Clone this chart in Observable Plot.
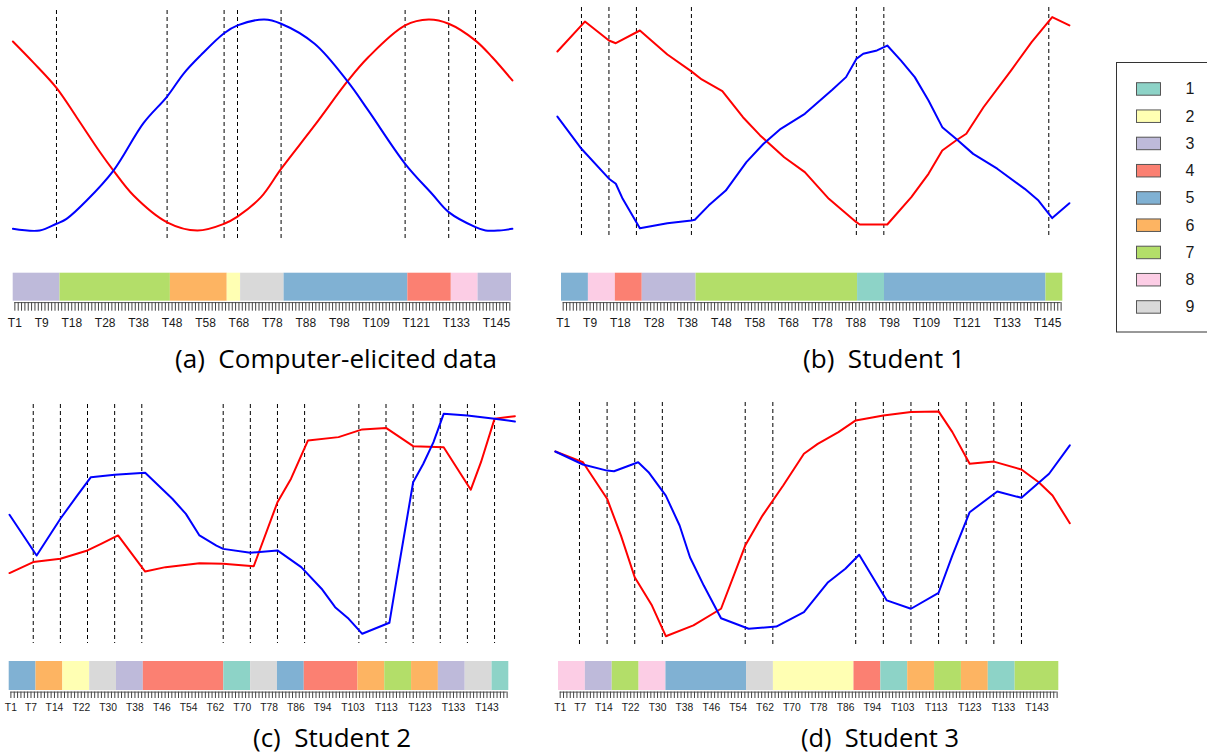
<!DOCTYPE html>
<html><head><meta charset="utf-8">
<script src="https://cdn.jsdelivr.net/npm/d3@7"></script>
<script src="https://cdn.jsdelivr.net/npm/@observablehq/plot@0.6"></script>
<style>
body{margin:0;background:#fff;}
#root{position:relative;width:1207px;height:755px;overflow:hidden;background:#fff;}
.pw{position:absolute;}
.pw svg{display:block;}
#overlay{position:absolute;left:0;top:0;pointer-events:none;}
</style></head><body><div id="root"></div>
<script>
// ---------------- data ----------------
const N_POINTS = 150;       // time points of the red/blue series
const N_STRIP = 149;        // time points in the cluster strip
const tickLabelsAB = [1, 9, 18, 28, 38, 48, 58, 68, 78, 88, 98, 109, 121, 133, 145];
const tickLabelsCD = [1, 7, 14, 22, 30, 38, 46, 54, 62, 70, 78, 86, 94, 103, 113, 123, 133, 143];
const clusterIds = [1, 2, 3, 4, 5, 6, 7, 8, 9];
const clusterColors = ["#8DD3C7", "#FFFFB3", "#BEBADA", "#FB8072", "#80B1D3", "#FDB462", "#B3DE69", "#FCCDE5", "#D9D9D9"];
const captions = ["(a)  Computer-elicited data", "(b)  Student 1", "(c)  Student 2", "(d)  Student 3"];

// (a) Computer-elicited data
const aSegEnd = [14, 47, 64, 68, 81, 118, 131, 139, 149];
const aSegCluster = [3, 7, 6, 2, 9, 5, 4, 8, 3];
const aRedT = [1, 7, 14, 20, 27, 31, 37, 47, 56, 64, 68, 75, 81, 91, 101, 107, 118, 125, 131, 139, 144, 150];
const aRedV = [89.6, 79.8, 67.6, 53.7, 37.1, 28.4, 16.6, 3.9, 0, 3.2, 6.6, 15.8, 29.2, 49.8, 71.1, 82.1, 97.2, 100, 98, 90, 82.1, 71.1];
const aBlueT = [1, 9, 14, 17, 23, 31, 40, 47, 52, 57, 64, 68, 76, 81, 91, 101, 107, 118, 126, 131, 139, 142, 146, 150];
const aBlueV = [0.8, 0, 3.2, 5.5, 14.2, 28.4, 51, 63.5, 74.5, 83, 93.5, 97.2, 100, 98, 88.5, 70.3, 56.9, 31.6, 17.4, 8.7, 1.6, 0, 0, 0.8];

// (b) Student 1
const bSegEnd = [8, 16, 24, 40, 88, 96, 144, 149];
const bSegCluster = [5, 8, 4, 3, 7, 1, 5, 7];
const bRedT = [1, 9, 16, 18, 25, 33, 40, 43, 49, 55, 60, 67, 73, 80, 84, 88, 89, 97, 104, 109, 113, 117, 120, 125, 133, 139, 145, 150];
const bRedV = [83.5, 97.6, 88.7, 87.4, 93.4, 82.1, 74.1, 70.3, 64.8, 52.5, 43.9, 33.6, 26.6, 14, 8.5, 3, 1.9, 1.9, 14.8, 25.8, 36.8, 41.5, 44.7, 57.2, 74.5, 87.9, 99.7, 95.8];
const bBlueT = [1, 8, 16, 18, 20, 25, 33, 40, 41, 45, 50, 56, 61, 66, 73, 81, 85, 88, 90, 94, 97, 101, 105, 109, 113, 117, 122, 129, 137, 141, 145, 150];
const bBlueV = [52.8, 37.6, 23.5, 21.1, 14, 0.1, 2.5, 3.8, 4.1, 10.8, 17.9, 31.3, 40, 47, 54.1, 65.4, 71.4, 80, 82.4, 84, 86.3, 79.2, 71.4, 60.4, 47.8, 42.3, 35.2, 28.2, 18.7, 13.2, 4.9, 11.9];

// (c) Student 2
const cSegEnd = [8, 16, 24, 32, 40, 64, 72, 80, 88, 104, 112, 120, 128, 136, 144, 149];
const cSegCluster = [5, 6, 2, 9, 3, 4, 1, 9, 5, 4, 6, 7, 6, 3, 9, 1];
const cRedT = [1, 8, 16, 24, 28, 33, 41, 47, 57, 64, 73, 80, 84, 89, 98, 105, 112, 120, 129, 137, 140, 144, 150];
const cRedV = [27.6, 32.6, 34.1, 37.9, 40.9, 44.7, 28.3, 30.3, 32.1, 31.8, 30.7, 59.8, 70.5, 87.9, 89.4, 92.9, 93.6, 85.3, 84.8, 65.5, 78, 97.7, 98.9];
const cBlueT = [1, 9, 16, 21, 25, 32, 41, 49, 53, 57, 62, 64, 72, 80, 87, 93, 97, 101, 105, 113, 115, 118, 120, 123, 126, 129, 136, 144, 150];
const cBlueV = [54.1, 35.6, 52.3, 62.9, 71.2, 72.3, 73.2, 61.4, 54.5, 44.7, 40.1, 38.6, 36.8, 37.9, 30.3, 20.5, 12.1, 6.8, 0, 5, 23.5, 50.7, 68.9, 77.3, 87.1, 100, 99.2, 97.7, 96.5];

// (d) Student 3
const dSegEnd = [8, 16, 24, 32, 56, 64, 88, 96, 104, 112, 120, 128, 136, 149];
const dSegCluster = [8, 3, 7, 8, 5, 9, 2, 4, 1, 6, 7, 6, 1, 7];
const dRedT = [1, 9, 16, 20, 24, 29, 33, 41, 49, 56, 61, 67, 73, 77, 83, 88, 96, 104, 112, 116, 121, 128, 136, 141, 145, 150];
const dRedV = [82.1, 77.3, 61.1, 44.8, 26.2, 13.6, 0, 4.8, 12.2, 40.3, 53.6, 67, 81.1, 85.5, 90.7, 95.9, 98.1, 99.6, 99.9, 90.7, 76.6, 77.6, 74.1, 68.4, 62.5, 50.2];
const dBlueT = [1, 9, 16, 18, 25, 28, 33, 37, 40, 44, 49, 57, 65, 73, 80, 85, 89, 97, 104, 112, 116, 121, 129, 136, 139, 144, 150];
const dBlueV = [82.1, 76.3, 73.6, 73.3, 77.3, 72.9, 62.5, 49.2, 35.1, 22.5, 8, 3.3, 4.3, 10.7, 24, 30, 36.2, 15.9, 12.2, 19.3, 35.9, 55.1, 64.3, 61.5, 65.5, 72.2, 84.8];

// ---------------- layout ----------------
const panels = [
  {segEnd: aSegEnd, segCluster: aSegCluster, red: [aRedT, aRedV], blue: [aBlueT, aBlueV], ticks: tickLabelsAB, curve: "catmull-rom",
   line: {left: 0, top: 0, w: 530, h: 250, x0: 12.4, x1: 511.9, yTop: 19, yBot: 230, dTop: 10, dBot: 239},
   strip: {left: 0, top: 262, w: 530, h: 80, x0: 12.7, x1: 511, sTop: 272.7, sBot: 300.7, gap: 1.4, comb: 8.6, labelY: 326.7, fs: 12},
   cap: {x: 175, y: 367.5, len: 322}},
  {segEnd: bSegEnd, segCluster: bSegCluster, red: [bRedT, bRedV], blue: [bBlueT, bBlueV], ticks: tickLabelsAB, curve: "linear",
   line: {left: 550, top: 0, w: 530, h: 250, x0: 556.9, x1: 1068.9, yTop: 16, yBot: 228, dTop: 7, dBot: 238},
   strip: {left: 550, top: 262, w: 530, h: 80, x0: 561, x1: 1062.3, sTop: 272.7, sBot: 300.7, gap: 1.4, comb: 8.6, labelY: 326.7, fs: 12},
   cap: {x: 803, y: 367.5, len: 162}},
  {segEnd: cSegEnd, segCluster: cSegCluster, red: [cRedT, cRedV], blue: [cBlueT, cBlueV], ticks: tickLabelsCD, curve: "linear",
   line: {left: 0, top: 395, w: 530, h: 257, x0: 9.0, x1: 514.4, yTop: 413.3, yBot: 633.3, dTop: 404, dBot: 643},
   strip: {left: 0, top: 652, w: 530, h: 80, x0: 8.7, x1: 508.3, sTop: 661, sBot: 690, gap: 1.6, comb: 6.4, labelY: 710, fs: 10.3},
   cap: {x: 253, y: 747.3, len: 158}},
  {segEnd: dSegEnd, segCluster: dSegCluster, red: [dRedT, dRedV], blue: [dBlueT, dBlueV], ticks: tickLabelsCD, curve: "linear",
   line: {left: 550, top: 395, w: 530, h: 257, x0: 554.8, x1: 1069.3, yTop: 410.7, yBot: 635.7, dTop: 402, dBot: 645},
   strip: {left: 550, top: 652, w: 530, h: 80, x0: 558, x1: 1058.3, sTop: 661, sBot: 690, gap: 1.6, comb: 6.4, labelY: 710, fs: 10.3},
   cap: {x: 801, y: 747.3, len: 158}}
];

const root = document.getElementById("root");
function place(node, left, top, w) {
  const div = document.createElement("div");
  div.className = "pw";
  div.style.left = left + "px";
  div.style.top = top + "px";
  div.style.width = w + "px";
  div.appendChild(node);
  root.appendChild(div);
}
const zip = ([t, v]) => t.map((d, i) => ({t: d, v: v[i]}));

for (const p of panels) {
  const L = p.line;
  const linePlot = Plot.plot({
    width: L.w, height: L.h,
    marginLeft: L.x0 - L.left, marginRight: L.left + L.w - L.x1,
    marginTop: L.yTop - L.top, marginBottom: L.top + L.h - L.yBot,
    style: {background: "transparent", maxWidth: "none"},
    x: {domain: [1, N_POINTS], axis: null},
    y: {domain: [0, 100], axis: null},
    marks: [
      Plot.ruleX(p.segEnd.slice(0, -1), {stroke: "#000", strokeWidth: 1, strokeDasharray: "4,3",
        insetTop: -(L.yTop - L.dTop), insetBottom: -(L.dBot - L.yBot)}),
      Plot.line(zip(p.red), {x: "t", y: "v", stroke: "#ff0000", strokeWidth: 2, curve: p.curve}),
      Plot.line(zip(p.blue), {x: "t", y: "v", stroke: "#0000ff", strokeWidth: 2, curve: p.curve})
    ]
  });
  place(linePlot, L.left, L.top, L.w);

  const S = p.strip;
  const segs = p.segEnd.map((e, i) => ({start: i === 0 ? 1 : p.segEnd[i - 1] + 1, end: e, cluster: p.segCluster[i]}));
  const stripPlot = Plot.plot({
    width: S.w, height: S.h,
    marginLeft: S.x0 - S.left, marginRight: S.left + S.w - S.x1,
    marginTop: S.sTop - S.top, marginBottom: S.top + S.h - S.sBot,
    style: {background: "transparent", maxWidth: "none", fontFamily: "'Liberation Sans', Arial, sans-serif"},
    x: {domain: [0.5, N_STRIP + 0.5], axis: null},
    y: {domain: [0, 1], axis: null},
    color: {domain: clusterIds, range: clusterColors},
    marks: [
      Plot.rect(segs, {x1: d => d.start - 0.5, x2: d => d.end + 0.5, y1: 0, y2: 1, fill: "cluster"}),
      Plot.ruleY([0], {x1: 1, x2: N_STRIP, stroke: "#555", strokeWidth: 1, dy: S.gap}),
      Plot.tickX(d3.range(1, N_STRIP + 1), {x: d => d, stroke: "#444", strokeWidth: 1,
        insetTop: (S.sBot - S.sTop) + S.gap, insetBottom: -(S.gap + S.comb)}),
      Plot.text(p.ticks, {x: d => d, frameAnchor: "bottom", dy: S.labelY - S.sBot, text: d => "T" + d,
        fontSize: S.fs, fill: "#1a1a1a"})
    ]
  });
  place(stripPlot, S.left, S.top, S.w);
}

// ---------------- captions & legend ----------------
const ov = d3.select(root).append("svg").attr("id", "overlay").attr("width", 1207).attr("height", 755);
ov.selectAll("text.cap").data(panels).join("text")
  .attr("class", "cap")
  .attr("x", d => d.cap.x).attr("y", d => d.cap.y)
  .attr("textLength", d => d.cap.len).attr("lengthAdjust", "spacingAndGlyphs")
  .style("white-space", "pre")
  .style("font-family", "'Open Sans', sans-serif").style("font-size", "25px").attr("fill", "#000")
  .text((d, i) => captions[i]);

const lg = ov.append("g");
lg.append("rect").attr("x", 1116.5).attr("y", 62.5).attr("width", 120).attr("height", 269.5)
  .attr("fill", "none").attr("stroke", "#333").attr("stroke-width", 1);
const row = lg.selectAll("g.row").data(clusterIds).join("g").attr("class", "row")
  .attr("transform", (d, i) => `translate(0,${88.7 + i * 27.25})`);
row.append("rect").attr("x", 1136.5).attr("y", -6).attr("width", 24).attr("height", 12.5)
  .attr("fill", (d, i) => clusterColors[i]).attr("stroke", "#555").attr("stroke-width", 1);
row.append("text").attr("x", 1190).attr("y", 0).attr("dy", "0.36em").attr("text-anchor", "middle")
  .style("font-family", "'Liberation Sans', Arial, sans-serif").style("font-size", "16px").attr("fill", "#1a1a1a")
  .text(d => d);
</script></body></html>
